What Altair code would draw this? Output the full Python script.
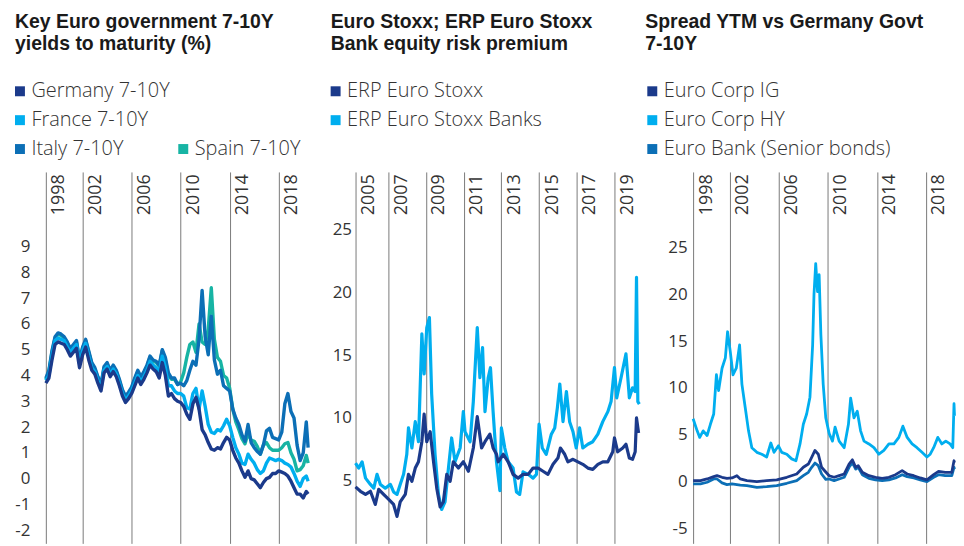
import altair as alt
import pandas as pd

FONT = "Open Sans"
TITLE_FONT = "Liberation Sans"
NAVY = "#1b3a8b"
CYAN = "#00aeef"
BLUE = "#0c6fb6"
TEAL = "#17b4a4"
GRID = "#7a7a7a"
TEXT = "#333333"
TITLE = "#1a1a1a"

# ---------------- Panel 1: government yields (quarterly readings) ----------------
p1_years = [1999.0 + 0.25 * i for i in range(86)] + [2020.4]
germany = [3.7, 3.9, 4.6, 5.2, 5.3, 5.25, 5.2, 5.0, 4.75, 4.9, 5.05, 4.3,
           4.8, 5.1, 4.6, 4.2, 4.05, 3.7, 3.4, 4.1, 4.25, 3.95, 4.15, 3.95,
           3.6, 3.2, 2.95, 3.1, 3.3, 3.6, 3.9, 3.65, 3.85, 4.1, 4.4, 4.25,
           4.15, 3.9, 4.5, 4.0, 3.2, 3.3, 3.1, 3.0, 2.95, 2.8, 2.5, 2.3,
           2.9, 3.15, 2.7, 1.9, 1.7, 1.4, 1.15, 1.1, 1.2, 1.15, 1.4, 1.6,
           1.5, 1.1, 0.8, 0.6, 0.3, 0.05, 0.3, 0.0, -0.05, -0.2, -0.35, -0.15,
           0.0, 0.05, 0.2, 0.2, 0.3, 0.25, 0.2, 0.1, -0.1, -0.35, -0.6, -0.6,
           -0.75, -0.5, -0.6]
france = [3.8, 4.0, 4.75, 5.35, 5.45, 5.4, 5.35, 5.1, 4.9, 5.05, 5.2, 4.45,
          4.95, 5.25, 4.75, 4.3, 4.15, 3.8, 3.5, 4.2, 4.35, 4.05, 4.25, 4.05,
          3.7, 3.3, 3.05, 3.2, 3.4, 3.7, 4.0, 3.75, 3.95, 4.2, 4.55, 4.4,
          4.3, 4.1, 4.75, 4.3, 3.6, 3.6, 3.4, 3.3, 3.3, 3.2, 2.75, 2.7,
          3.3, 3.5, 2.7, 3.4, 2.8, 2.1, 1.8, 1.75, 1.9, 1.85, 2.05, 2.3,
          2.05, 1.6, 1.2, 0.95, 0.6, 0.55, 0.95, 0.75, 0.6, 0.35, 0.2, 0.3,
          0.6, 0.8, 0.75, 0.7, 0.75, 0.7, 0.6, 0.55, 0.45, 0.2, -0.1, -0.3,
          0.0, 0.1, -0.1]
italy = [3.9, 4.2, 4.95, 5.5, 5.65, 5.6, 5.5, 5.3, 5.05, 5.2, 5.35, 4.6,
         5.1, 5.4, 4.95, 4.5, 4.3, 3.95, 3.65, 4.35, 4.5, 4.2, 4.4, 4.2,
         3.85, 3.45, 3.2, 3.35, 3.55, 3.9, 4.2, 3.95, 4.15, 4.4, 4.75, 4.6,
         4.55, 4.4, 5.0, 4.7, 4.1, 3.9, 3.9, 3.65, 3.7, 3.6, 3.8, 4.2,
         4.55, 4.4, 5.4, 7.3, 5.5, 4.8, 6.3, 4.6, 4.05, 4.2, 3.6, 3.5,
         3.4, 2.7, 2.35, 2.1, 1.7, 1.45, 2.1, 1.4, 1.2, 1.05, 0.95, 1.3,
         1.85, 1.95, 1.6, 1.55, 1.5, 1.8, 2.9, 3.3, 2.6, 2.35, 1.3, 0.7,
         1.0, 2.2, 1.2]
spain = [3.85, 4.15, 4.9, 5.45, 5.6, 5.55, 5.45, 5.25, 5.0, 5.15, 5.3, 4.55,
         5.05, 5.35, 4.9, 4.45, 4.25, 3.9, 3.6, 4.3, 4.45, 4.15, 4.35, 4.15,
         3.8, 3.4, 3.15, 3.3, 3.5, 3.85, 4.15, 3.9, 4.1, 4.35, 4.7, 4.55,
         4.5, 4.35, 4.95, 4.6, 4.0, 3.85, 3.85, 3.65, 3.75, 4.1, 4.7, 5.2,
         5.3, 4.9, 6.0, 5.3, 5.2, 5.8, 7.4, 5.4, 4.7, 4.55, 4.0, 3.9,
         3.5, 2.7, 2.2, 1.9, 1.55, 1.35, 1.75, 1.5, 1.45, 1.25, 0.95, 1.3,
         1.4, 1.2, 1.1, 1.1, 1.1, 1.2, 1.35, 1.4, 1.0, 0.75, 0.3, 0.35,
         0.5, 0.9, 0.6]
p1_ticks = [1999.0, 2002, 2006, 2010, 2014, 2018]
p1_tick_labels = ["1998", "2002", "2006", "2010", "2014", "2018"]
p1_y_ticks = [-2, -1, 0, 1, 2, 3, 4, 5, 6, 7, 8, 9]

# ---------------- Panel 2: equity risk premium ----------------
erp_years = [2005.26, 2005.52, 2005.79, 2006.05, 2006.31, 2006.49, 2006.75, 2007.02,
             2007.28, 2007.46, 2007.63, 2007.90, 2008.07, 2008.25, 2008.43, 2008.60,
             2008.78, 2008.90, 2009.04, 2009.22, 2009.40, 2009.57, 2009.75, 2009.92,
             2010.10, 2010.28, 2010.45, 2010.72, 2010.98, 2011.25, 2011.51, 2011.72,
             2011.95, 2012.13, 2012.39, 2012.56, 2012.74, 2012.83, 2013.10, 2013.36,
             2013.62, 2013.89, 2014.15, 2014.42, 2014.68, 2014.95, 2015.21, 2015.47,
             2015.74, 2016.00, 2016.13, 2016.36, 2016.53, 2016.80, 2017.06, 2017.32,
             2017.59, 2017.85, 2018.12, 2018.38, 2018.65, 2018.91, 2019.00, 2019.17,
             2019.44, 2019.61, 2019.79, 2019.96, 2020.10, 2020.17, 2020.28]
erp_stoxx = [4.5, 4.15, 3.9, 4.15, 3.1, 4.3, 3.9, 3.5,
             3.1, 2.15, 3.3, 3.9, 5.5, 4.95, 6.0, 6.5,
             8.1, 10.3, 8.1, 8.9, 6.5, 4.4, 2.9, 3.3,
             5.5, 4.95, 6.5, 6.0, 6.5, 5.75, 7.6, 10.1,
             7.6, 8.1, 8.7, 7.6, 7.1, 6.5, 7.1, 6.5,
             5.5, 5.2, 5.5, 5.5, 6.0, 6.0, 5.75, 5.5,
             6.3, 6.8, 7.6, 7.1, 6.5, 6.7, 6.5, 6.3,
             6.0, 5.9, 6.3, 6.5, 6.5, 7.3, 8.4, 7.3,
             7.6, 7.9, 6.8, 6.7, 7.3, 10.0, 8.8]
banks_years = [2005.26, 2005.43, 2005.61, 2005.79, 2006.05, 2006.23, 2006.40, 2006.58,
               2006.84, 2007.11, 2007.28, 2007.46, 2007.63, 2007.81, 2007.98, 2008.07,
               2008.25, 2008.43, 2008.60, 2008.78, 2008.90, 2009.04, 2009.18, 2009.30,
               2009.48, 2009.66, 2009.83, 2010.01, 2010.19, 2010.36, 2010.54, 2010.81,
               2010.98, 2011.07, 2011.34, 2011.51, 2011.72, 2011.86, 2012.00, 2012.13,
               2012.30, 2012.42, 2012.56, 2012.74, 2012.92, 2013.00, 2013.18, 2013.36,
               2013.62, 2013.80, 2013.97, 2014.15, 2014.42, 2014.68, 2014.86, 2015.00,
               2015.17, 2015.38, 2015.65, 2015.83, 2015.97, 2016.10, 2016.27, 2016.45,
               2016.62, 2016.80, 2016.97, 2017.15, 2017.32, 2017.59, 2017.85, 2018.12,
               2018.38, 2018.65, 2018.82, 2019.00, 2019.12, 2019.35, 2019.61, 2019.79,
               2019.96, 2020.10, 2020.17, 2020.24, 2020.32]
erp_banks = [6.4, 6.0, 6.5, 5.2, 4.7, 4.4, 5.5, 4.7,
             4.4, 4.7, 4.1, 3.9, 4.7, 5.5, 7.1, 9.2,
             7.6, 9.7, 8.1, 16.7, 13.5, 17.2, 18.0, 11.9,
             7.1, 3.9, 2.7, 3.3, 6.0, 8.4, 6.5, 7.6,
             10.5, 8.9, 8.1, 11.3, 17.2, 13.2, 15.6, 10.5,
             13.2, 14.0, 10.5, 6.5, 4.2, 9.2, 7.6, 6.5,
             6.0, 4.1, 3.9, 5.7, 5.5, 5.2, 5.5, 9.5,
             7.6, 7.1, 8.7, 9.2, 10.8, 12.7, 9.7, 12.1,
             9.7, 8.9, 7.6, 9.2, 7.6, 7.9, 8.1, 8.7,
             9.7, 10.5, 11.3, 14.0, 11.6, 13.2, 15.1, 11.6,
             12.4, 12.1, 21.2, 11.3, 11.1]
p2_ticks = [2005.26, 2007, 2009, 2011, 2013, 2015, 2017, 2019]
p2_tick_labels = ["2005", "2007", "2009", "2011", "2013", "2015", "2017", "2019"]
p2_y_ticks = [5, 10, 15, 20, 25]

# ---------------- Panel 3: corporate spreads ----------------
hy_years = [1999.0, 1999.33, 1999.54, 1999.82, 2000.14, 2000.41, 2000.68, 2000.90,
            2001.08, 2001.36, 2001.63, 2001.81, 2002.03, 2002.25, 2002.52, 2002.79,
            2002.98, 2003.25, 2003.52, 2003.79, 2004.20, 2004.60, 2005.00, 2005.34,
            2005.60, 2005.96, 2006.23, 2006.64, 2007.04, 2007.39, 2007.72, 2007.99,
            2008.26, 2008.53, 2008.75, 2008.86, 2009.00, 2009.15, 2009.28, 2009.42,
            2009.61, 2009.82, 2010.10, 2010.37, 2010.58, 2010.91, 2011.32, 2011.67,
            2011.85, 2012.12, 2012.39, 2012.66, 2012.94, 2013.34, 2013.75, 2014.15,
            2014.56, 2014.97, 2015.38, 2015.78, 2016.11, 2016.46, 2016.86, 2017.26,
            2017.67, 2018.07, 2018.34, 2018.62, 2018.96, 2019.29, 2019.61, 2019.96,
            2020.18, 2020.28, 2020.32]
corp_hy = [6.7, 5.4, 4.7, 5.4, 4.9, 6.1, 7.2, 11.4,
           9.7, 12.1, 13.2, 16.0, 13.9, 11.4, 12.1, 14.6,
           10.4, 7.9, 5.4, 3.6, 3.1, 2.9, 2.6, 4.1,
           3.1, 3.8, 3.1, 2.9, 2.4, 2.2, 4.0, 6.1,
           7.2, 9.0, 14.6, 20.0, 23.3, 20.3, 22.1, 15.7,
           10.4, 6.8, 5.1, 4.3, 5.8, 4.3, 3.6, 6.1,
           8.9, 6.8, 7.5, 5.4, 4.3, 4.0, 3.6, 2.9,
           3.3, 4.0, 4.0, 4.7, 5.9, 4.7, 4.0, 3.6,
           3.1, 2.6, 2.9, 3.6, 4.7, 4.0, 4.3, 4.0,
           3.6, 8.3, 7.0]
ig_years = [1999.0, 1999.6, 2000.14, 2000.68, 2000.95, 2001.36, 2001.76, 2002.17,
            2002.57, 2002.85, 2003.39, 2004.2, 2005.0, 2005.82, 2006.64, 2007.45,
            2007.99, 2008.4, 2008.67, 2008.94, 2009.21, 2009.48, 2009.82, 2010.1,
            2010.5, 2010.91, 2011.32, 2011.72, 2011.99, 2012.26, 2012.47, 2012.8,
            2013.34, 2013.88, 2014.42, 2014.97, 2015.51, 2016.05, 2016.46, 2017.0,
            2017.53, 2018.07, 2018.62, 2019.02, 2019.56, 2020.1, 2020.28, 2020.32]
corp_ig = [0.07, 0.07, 0.25, 0.5, 0.6, 0.43, 0.32, 0.36,
           0.6, 0.25, 0.07, -0.03, 0.07, 0.15, 0.43, 0.78,
           1.5, 1.85, 2.56, 3.3, 2.9, 1.5, 1.0, 0.6,
           0.43, 0.6, 0.78, 1.85, 2.3, 1.5, 1.67, 0.96,
           0.6, 0.43, 0.32, 0.43, 0.71, 1.14, 0.78, 0.6,
           0.36, 0.15, 0.71, 1.07, 0.96, 0.96, 2.2, 2.0]
bank_senior = [-0.28, -0.28, -0.1, 0.25, 0.25, -0.17, -0.35, -0.28,
               -0.35, -0.4, -0.46, -0.64, -0.57, -0.46, -0.21, 0.07,
               0.6, 0.96, 1.5, 1.95, 1.67, 0.78, 0.2, 0.25,
               0.07, 0.25, 0.43, 1.5, 2.0, 1.3, 1.5, 0.71,
               0.32, 0.15, 0.07, 0.15, 0.36, 0.71, 0.5, 0.36,
               0.15, -0.03, 0.43, 0.71, 0.6, 0.6, 1.5, 1.3]
p3_ticks = [1999.0, 2002, 2006, 2010, 2014, 2018]
p3_tick_labels = ["1998", "2002", "2006", "2010", "2014", "2018"]
p3_y_ticks = [-5, 0, 5, 10, 15, 20, 25]


def frame(name, years, values):
    return pd.DataFrame({"year": years, "value": values, "series": name})


def x_enc(domain, ticks, labels):
    expr = ("[" + ",".join("'%s'" % l for l in labels) + "][indexof(["
            + ",".join(str(t) for t in ticks) + "], datum.value)]")
    return alt.X(
        "year:Q",
        scale=alt.Scale(domain=domain, nice=False, zero=False),
        axis=alt.Axis(orient="top", values=ticks, labelExpr=expr, title=None,
                      domain=False, ticks=False, grid=True, gridColor=GRID,
                      gridWidth=1, gridOpacity=1, labelAngle=270, labelAlign="left",
                      labelBaseline="middle", labelOffset=13, labelPadding=0,
                      offset=-43, labelFont=FONT, labelFontSize=18,
                      labelColor=TEXT, labelOverlap=False, labelFlush=False),
    )


def y_enc(domain, ticks, pad):
    return alt.Y(
        "value:Q",
        scale=alt.Scale(domain=domain, nice=False, zero=False),
        axis=alt.Axis(values=ticks, title=None, domain=False, ticks=False,
                      grid=False, labelPadding=pad, labelFont=FONT,
                      labelExpr="'' + datum.value",
                      labelFontSize=17, labelColor=TEXT, labelOverlap=False,
                      labelFlush=False),
    )


def legend(x, y):
    return alt.Legend(title=None, orient="none", legendX=x, legendY=y,
                      direction="vertical", symbolType="square", symbolSize=25,
                      symbolStrokeWidth=5, symbolOpacity=1, labelFont=FONT,
                      labelFontSize=20, labelColor=TEXT, labelFontWeight=300,
                      labelLimit=400, labelOffset=1.5, rowPadding=3, padding=0)


def title(lines, dx):
    return alt.TitleParams(text=lines, anchor="start", frame="group", dx=dx,
                           offset=26.5, font=TITLE_FONT, fontSize=19.5, fontWeight="bold",
                           color=TITLE, lineHeight=22.5, orient="top")


# ---- panel 1
X1 = x_enc([1999.0, 2020.45], p1_ticks, p1_tick_labels)
Y1 = y_enc([-2.51, 11.89], p1_y_ticks, 16)
df1_main = pd.concat([frame("Italy 7-10Y", p1_years, italy),
                      frame("France 7-10Y", p1_years, france),
                      frame("Germany 7-10Y", p1_years, germany)])
df1_spain = frame("Spain 7-10Y", p1_years, spain)
spain_line = alt.Chart(df1_spain).mark_line(strokeWidth=3.4, strokeJoin="round").encode(
    x=X1, y=Y1,
    color=alt.Color("series:N", scale=alt.Scale(domain=["Spain 7-10Y"], range=[TEAL]),
                    legend=legend(128, -33)))
main_lines = alt.Chart(df1_main).mark_line(strokeWidth=3.4, strokeJoin="round").encode(
    x=X1, y=Y1,
    color=alt.Color("series:N",
                    scale=alt.Scale(domain=["Germany 7-10Y", "France 7-10Y", "Italy 7-10Y"],
                                    range=[NAVY, CYAN, BLUE]),
                    legend=legend(-36, -91)))
p1 = alt.layer(spain_line, main_lines).resolve_scale(color="independent").properties(
    width=264, height=373,
    title=title(["Key Euro government 7-10Y", "yields to maturity (%)"], -31))

# ---- panel 2
X2 = x_enc([2005.26, 2020.69], p2_ticks, p2_tick_labels)
Y2 = y_enc([0, 29.6], p2_y_ticks, 4)
df2 = pd.concat([frame("ERP Euro Stoxx Banks", banks_years, erp_banks),
                 frame("ERP Euro Stoxx", erp_years, erp_stoxx)])
p2 = alt.Chart(df2).mark_line(strokeWidth=3.2, strokeJoin="round").encode(
    x=X2, y=Y2,
    color=alt.Color("series:N",
                    scale=alt.Scale(domain=["ERP Euro Stoxx", "ERP Euro Stoxx Banks"],
                                    range=[NAVY, CYAN]),
                    legend=legend(-30, -91))
).properties(width=292, height=373,
             title=title(["Euro Stoxx; ERP Euro Stoxx", "Bank equity risk premium"], -25))

# ---- panel 3
X3 = x_enc([1999.0, 2020.28], p3_ticks, p3_tick_labels)
Y3 = y_enc([-6.64, 33.1], p3_y_ticks, 6)
df3 = pd.concat([frame("Euro Corp HY", hy_years, corp_hy),
                 frame("Euro Bank (Senior bonds)", ig_years, bank_senior),
                 frame("Euro Corp IG", ig_years, corp_ig)])
p3 = alt.Chart(df3).mark_line(strokeWidth=2.8, strokeJoin="round").encode(
    x=X3, y=Y3,
    color=alt.Color("series:N",
                    scale=alt.Scale(domain=["Euro Corp IG", "Euro Corp HY", "Euro Bank (Senior bonds)"],
                                    range=[NAVY, CYAN, BLUE]),
                    legend=legend(-51, -91))
).properties(width=262, height=373,
             title=title(["Spread YTM vs Germany Govt", "7-10Y"], -48))

chart = alt.hconcat(p1, p2, p3, spacing=47, bounds="flush").resolve_scale(
    color="independent"
).properties(
    padding={"left": 2, "top": 2.5, "right": 0, "bottom": 0}
).configure_view(strokeWidth=0)

chart.save("out.html", embed_options={"renderer": "svg", "actions": False})
